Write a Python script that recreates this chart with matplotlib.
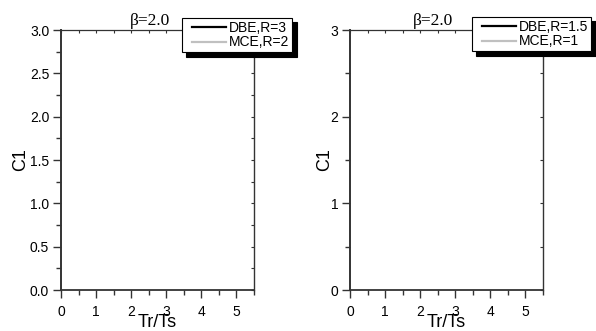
import matplotlib
matplotlib.use("Agg")
import matplotlib.pyplot as plt
from matplotlib.ticker import MultipleLocator
from matplotlib.legend_handler import HandlerLine2D

# === Data (curves lie outside the visible range, nothing plotted) ===
tr_ts = []
c1_dbe_left = []
c1_mce_left = []
c1_dbe_right = []
c1_mce_right = []

x_ticks = [0, 1, 2, 3, 4, 5]
left_yticks = [0.0, 0.5, 1.0, 1.5, 2.0, 2.5, 3.0]
right_yticks = [0, 1, 2, 3]
left_labels = ["DBE,R=3", "MCE,R=2"]
right_labels = ["DBE,R=1.5", "MCE,R=1"]
title = "β=2.0"

plt.rcParams['font.family'] = ['Liberation Sans', 'DejaVu Sans']

fig = plt.figure(figsize=(5.96, 3.31), dpi=100)
ax1 = fig.add_axes([61 / 596, 1 - 290 / 331, 193 / 596, 260 / 331])
ax2 = fig.add_axes([350 / 596, 1 - 290 / 331, 193 / 596, 260 / 331])

spine_col = "#333333"


def style_axes(ax, yticks, ylab_x, yfmt, title_x, labels, ydbe, ymce, leg_xy):
    ax.plot(tr_ts, ydbe, color="black", lw=1.6, label=labels[0])
    ax.plot(tr_ts, ymce, color="#c0c0c0", lw=1.6, label=labels[1])
    ax.set_xlim(0, 5.5)
    ax.set_ylim(yticks[0], yticks[-1])
    ax.set_xticks(x_ticks)
    ax.set_yticks(yticks)
    ax.set_yticklabels([yfmt.format(v) for v in yticks])
    ymin = (yticks[1] - yticks[0]) / 2
    ax.xaxis.set_minor_locator(MultipleLocator(0.5))
    ax.yaxis.set_minor_locator(MultipleLocator(ymin))

    # bottom / left: heavier spines, outward ticks
    ax.spines["left"].set_linewidth(1.4)
    ax.spines["bottom"].set_linewidth(1.3)
    ax.spines["top"].set_visible(False)
    ax.spines["right"].set_visible(False)
    for s in ("left", "bottom"):
        ax.spines[s].set_color(spine_col)
    ax.tick_params(which="both", direction="out", color=spine_col, width=1.0,
                   labelsize=10, top=False, right=False)
    ax.tick_params(which="major", length=5.5)
    ax.tick_params(which="minor", length=3.5)
    ax.tick_params(axis="x", which="major", pad=5)
    ax.tick_params(axis="y", which="major", pad=3)

    # top / right: thinner spines, small inward ticks, no labels
    top = ax.secondary_xaxis("top")
    top.set_xticks(x_ticks)
    top.xaxis.set_minor_locator(MultipleLocator(0.5))
    top.tick_params(which="both", direction="in", length=2.5, width=0.8,
                    color=spine_col, labeltop=False)
    top.spines["top"].set_linewidth(0.9)
    top.spines["top"].set_color(spine_col)
    right = ax.secondary_yaxis("right")
    right.set_yticks(yticks)
    right.yaxis.set_minor_locator(MultipleLocator(ymin))
    right.tick_params(which="both", direction="in", length=2.5, width=0.8,
                      color=spine_col, labelright=False)
    right.spines["right"].set_linewidth(1.0)
    right.spines["right"].set_color(spine_col)

    ax.set_xlabel("Tr/Ts", fontsize=13)
    ax.xaxis.set_label_coords(0.5, -0.093)
    ax.set_ylabel("C1", fontsize=13)
    ax.yaxis.set_label_coords(ylab_x, 0.5)
    ax.yaxis.label.set_verticalalignment("center")
    ax.text(title_x, 1.019, title, transform=ax.transAxes, ha="center",
            va="baseline", fontsize=12.5, family="Liberation Serif")

    leg = ax.legend(loc="upper left", bbox_to_anchor=leg_xy, bbox_transform=fig.transFigure,
                    fontsize=10, frameon=True, fancybox=False, framealpha=1,
                    edgecolor="black", handlelength=3.0, handletextpad=0.2,
                    borderpad=0.2, labelspacing=0.05, borderaxespad=0,
                    handler_map={matplotlib.lines.Line2D: HandlerLine2D(xpad=0.5)},
                    shadow={"ox": 3.2, "oy": -3.2, "facecolor": "black",
                            "edgecolor": "black", "alpha": 1})
    leg.get_frame().set_linewidth(0.8)
    leg.set_zorder(10)


style_axes(ax1, left_yticks, -0.21, "{:.1f}", 0.46, left_labels,
           c1_dbe_left, c1_mce_left, (182 / 596, 1 - 18 / 331))
style_axes(ax2, right_yticks, -0.13, "{:d}", 0.43, right_labels,
           c1_dbe_right, c1_mce_right, (472 / 596, 1 - 17 / 331))

fig.savefig("out.png", dpi=100)
